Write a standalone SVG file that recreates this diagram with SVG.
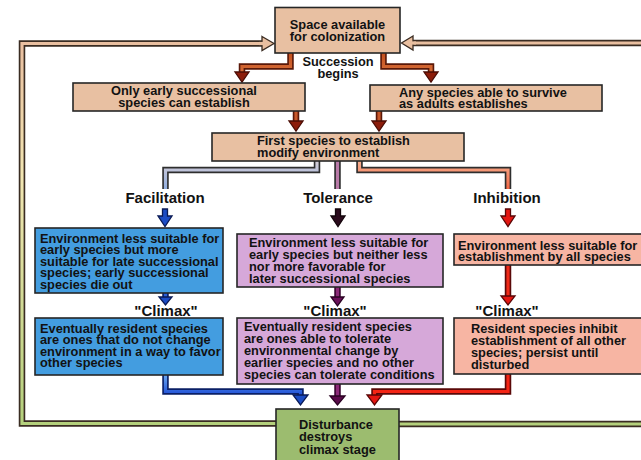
<svg xmlns="http://www.w3.org/2000/svg" width="641" height="460" viewBox="0 0 641 460">
<style>
text{font-family:"Liberation Sans",Arial,Helvetica,sans-serif;font-weight:bold;fill:#121212}
.t{font-size:12.8px}
.h{font-size:15px}
.box{stroke:#262626;stroke-width:1.6}
.tan{fill:#e8c0a2}
.blue{fill:#439de0}
.pur{fill:#d6a8d9}
.sal{fill:#f7b5a3}
.grn{fill:#9cbc6f}
.o{fill:none;stroke-width:6.5;stroke-linejoin:miter}
.i{fill:none;stroke-width:3.2;stroke-linejoin:miter}
.ah{stroke-width:1.3;stroke-linejoin:miter}
</style>
<defs>
<linearGradient id="gFeed" gradientUnits="userSpaceOnUse" x1="0" y1="44" x2="0" y2="424">
<stop offset="0" stop-color="#e9bfa0"/><stop offset="0.35" stop-color="#f2e6b2"/><stop offset="1" stop-color="#b4d07c"/>
</linearGradient>
<linearGradient id="gFac" gradientUnits="userSpaceOnUse" x1="0" y1="161" x2="0" y2="188">
<stop offset="0" stop-color="#d6ced6"/><stop offset="1" stop-color="#93afe0"/>
</linearGradient>
<linearGradient id="gInh" gradientUnits="userSpaceOnUse" x1="0" y1="161" x2="0" y2="188">
<stop offset="0" stop-color="#f6b090"/><stop offset="1" stop-color="#f46a48"/>
</linearGradient>
<linearGradient id="gBr" gradientUnits="userSpaceOnUse" x1="0" y1="53" x2="0" y2="75">
<stop offset="0" stop-color="#c4501e"/><stop offset="1" stop-color="#d8703a"/>
</linearGradient>
<linearGradient id="gBlu" gradientUnits="userSpaceOnUse" x1="0" y1="375" x2="0" y2="395">
<stop offset="0" stop-color="#6aa8f0"/><stop offset="1" stop-color="#1f4fd6"/>
</linearGradient>
</defs>

<g id="connectors">
<path class="o" stroke="#3a2c22" d="M263 43.5 H22 V423.5 H277"/>
<path class="i" stroke="url(#gFeed)" d="M264 43.5 H22 V423.5 H277"/>
<polygon class="ah" fill="#e9bfa0" stroke="#3a2c22" points="262,36.5 274,43.5 262,50.5"/>
<path class="i" stroke="#e9bfa0" d="M259 43.5 H264"/>
<path class="o" stroke="#3a2c22" d="M642 43 H413"/>
<path class="i" stroke="#e9bfa0" d="M642 43 H412"/>
<polygon class="ah" fill="#e9bfa0" stroke="#3a2c22" points="413,36 401.5,43 413,50"/>
<path class="i" stroke="#e9bfa0" d="M416 43 H412"/>
<path class="o" stroke="#3a2c22" d="M398 424 H642"/>
<path class="i" stroke="#b4d07c" d="M398 424 H642"/>

<path class="o" stroke="#5a1808" d="M290.5 53 V66.5 H242 V73"/>
<path class="i" stroke="url(#gBr)" d="M290.5 53 V66.5 H242 V73"/>
<polygon class="ah" fill="#8c1c0a" stroke="#4a0c04" points="235,72 249,72 242,82"/>
<path class="o" stroke="#5a1808" d="M383.5 53 V66.5 H431 V73"/>
<path class="i" stroke="url(#gBr)" d="M383.5 53 V66.5 H431 V73"/>
<polygon class="ah" fill="#8c1c0a" stroke="#4a0c04" points="424,72 438,72 431,82"/>

<path class="o" stroke="#5a1808" d="M296 111 V122"/>
<path class="i" stroke="#c8582a" d="M296 111 V122"/>
<polygon class="ah" fill="#8c1c0a" stroke="#4a0c04" points="289,121 303,121 296,131"/>
<path class="o" stroke="#5a1808" d="M379 111 V122"/>
<path class="i" stroke="#c8582a" d="M379 111 V122"/>
<polygon class="ah" fill="#8c1c0a" stroke="#4a0c04" points="372,121 386,121 379,131"/>

<path class="o" stroke="#2e2e2e" d="M317 161 V170 H165.5 V189"/>
<path class="i" stroke="url(#gFac)" d="M317 161 V170 H165.5 V189"/>
<path class="o" stroke="#2e2e2e" d="M337.5 161 V189"/>
<path class="i" stroke="#b97aa8" d="M337.5 161 V189"/>
<path class="o" stroke="#2e2e2e" d="M359.5 161 V170 H508 V189"/>
<path class="i" stroke="url(#gInh)" d="M359.5 161 V170 H508 V189"/>

<polygon class="ah" fill="#1c4cc4" stroke="#0a1a55" points="162.5,209 167.5,209 167.5,216 172,216 165,226.5 158,216 162.5,216"/>
<polygon class="ah" fill="#2a0a1c" stroke="#12040a" points="335.5,209 340.5,209 340.5,216 345,216 338,226.5 331,216 335.5,216"/>
<polygon class="ah" fill="#e41612" stroke="#5a0606" points="505.5,209 510.5,209 510.5,216 515,216 508,226.5 501,216 505.5,216"/>

<path class="o" stroke="#0a1f66" d="M165.5 293 V298"/>
<path class="i" stroke="#2b62d8" d="M165.5 293 V298"/>
<polygon class="ah" fill="#1c4cc4" stroke="#0a1a55" points="159,297 172,297 165.5,305"/>
<path class="o" stroke="#3a0630" d="M337.5 287 V298"/>
<path class="i" stroke="#8c2a78" d="M337.5 287 V298"/>
<polygon class="ah" fill="#6a1058" stroke="#2a0222" points="331,297 344,297 337.5,306"/>
<path class="o" stroke="#5a0808" d="M508 265 V297"/>
<path class="i" stroke="#f02a18" d="M508 265 V297"/>
<polygon class="ah" fill="#e41612" stroke="#5a0606" points="501,296 515,296 508,305"/>

<path class="o" stroke="#0a1f66" d="M165.5 375 V391.5 H300.5 V396"/>
<path class="i" stroke="url(#gBlu)" d="M165.5 375 V391.5 H300.5 V396"/>
<polygon class="ah" fill="#1c4cc4" stroke="#0a1a55" points="293,395 308,395 300.5,405"/>
<path class="o" stroke="#3a0630" d="M337.5 384 V397"/>
<path class="i" stroke="#8c2a78" d="M337.5 384 V397"/>
<polygon class="ah" fill="#5a0a4a" stroke="#2a0222" points="330,396 345,396 337.5,405"/>
<path class="o" stroke="#5a0808" d="M508 374 V391.5 H374.5 V396"/>
<path class="i" stroke="#f42414" d="M508 374 V391.5 H374.5 V396"/>
<polygon class="ah" fill="#e41612" stroke="#5a0606" points="367,395 382,395 374.5,405"/>
</g>

<g id="space">
<rect class="box tan" x="275" y="7.5" width="125" height="45.5"/>
<text class="t" text-anchor="middle"><tspan x="337.5" y="29">Space available</tspan><tspan x="337.5" y="40.5">for colonization</tspan></text>
</g>
<g id="succession-label">
<text class="t" text-anchor="middle" fill="#2a2a2a"><tspan x="338" y="66">Succession</tspan><tspan x="338" y="77.5">begins</tspan></text>
</g>
<g id="early">
<rect class="box tan" x="73" y="83" width="232" height="28"/>
<text class="t" text-anchor="middle"><tspan x="184" y="95">Only early successional</tspan><tspan x="184" y="106.5">species can establish</tspan></text>
</g>
<g id="any">
<rect class="box tan" x="370" y="85" width="232" height="26"/>
<text class="t"><tspan x="399" y="96.5">Any species able to survive</tspan><tspan x="399" y="108">as adults establishes</tspan></text>
</g>
<g id="first">
<rect class="box tan" x="212" y="133" width="252" height="28"/>
<text class="t"><tspan x="257" y="145">First species to establish</tspan><tspan x="257" y="157">modify environment</tspan></text>
</g>

<g id="facilitation">
<text class="h" x="165" y="203" text-anchor="middle">Facilitation</text>
</g>
<g id="tolerance">
<text class="h" x="338" y="203" text-anchor="middle">Tolerance</text>
</g>
<g id="inhibition">
<text class="h" x="507" y="203" text-anchor="middle">Inhibition</text>
</g>

<g id="fac1">
<rect class="box blue" x="35" y="228" width="188" height="65" stroke="#0c1a40"/>
<text class="t"><tspan x="40" y="242.5">Environment less suitable for</tspan><tspan x="40" y="254">early species but more</tspan><tspan x="40" y="265.5">suitable for late successional</tspan><tspan x="40" y="277">species; early successional</tspan><tspan x="40" y="288.5">species die out</tspan></text>
</g>
<g id="tol1">
<rect class="box pur" x="237" y="234" width="206" height="53"/>
<text class="t"><tspan x="249" y="246.5">Environment less suitable for</tspan><tspan x="249" y="258.5">early species but neither less</tspan><tspan x="249" y="270.5">nor more favorable for</tspan><tspan x="249" y="282.5">later successional species</tspan></text>
</g>
<g id="inh1">
<rect class="box sal" x="454" y="234" width="188" height="31"/>
<text class="t"><tspan x="458" y="249.5">Environment less suitable for</tspan><tspan x="458" y="261">establishment by all species</tspan></text>
</g>

<g id="climax-labels">
<text class="h" x="166" y="316" text-anchor="middle">"Climax"</text>
<text class="h" x="335" y="316" text-anchor="middle">"Climax"</text>
<text class="h" x="507" y="316" text-anchor="middle">"Climax"</text>
</g>

<g id="fac2">
<rect class="box blue" x="35" y="318" width="188" height="57" stroke="#0c1a40"/>
<text class="t"><tspan x="40" y="332.5">Eventually resident species</tspan><tspan x="40" y="344">are ones that do not change</tspan><tspan x="40" y="355.5">environment in a way to favor</tspan><tspan x="40" y="367">other species</tspan></text>
</g>
<g id="tol2">
<rect class="box pur" x="237" y="318" width="206" height="66"/>
<text class="t"><tspan x="244" y="331">Eventually resident species</tspan><tspan x="244" y="343">are ones able to tolerate</tspan><tspan x="244" y="355">environmental change by</tspan><tspan x="244" y="367">earlier species and no other</tspan><tspan x="244" y="379">species can tolerate conditions</tspan></text>
</g>
<g id="inh2">
<rect class="box sal" x="454" y="318" width="188" height="56"/>
<text class="t"><tspan x="471" y="332.5">Resident species inhibit</tspan><tspan x="471" y="344.5">establishment of all other</tspan><tspan x="471" y="356.5">species; persist until</tspan><tspan x="471" y="368.5">disturbed</tspan></text>
</g>

<g id="disturbance">
<rect class="box grn" x="276" y="409" width="123" height="55"/>
<text class="t"><tspan x="299" y="428.5">Disturbance</tspan><tspan x="299" y="441">destroys</tspan><tspan x="299" y="453.5">climax stage</tspan></text>
</g>
</svg>
